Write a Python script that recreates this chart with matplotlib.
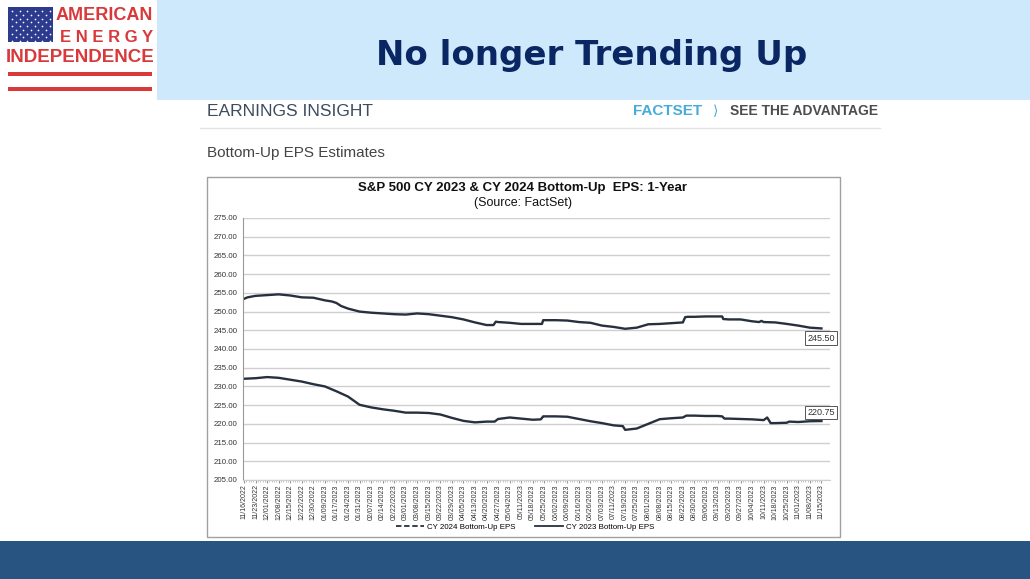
import matplotlib
matplotlib.use("Agg")
import matplotlib.pyplot as plt
from matplotlib.lines import Line2D
from matplotlib.patches import Rectangle
import numpy as np

# tick labels (every 5th trading day)
tick_labels = ["11/16/2022", "11/23/2022", "12/01/2022", "12/08/2022", "12/15/2022",
               "12/22/2022", "12/30/2022", "01/09/2023", "01/17/2023", "01/24/2023",
               "01/31/2023", "02/07/2023", "02/14/2023", "02/22/2023", "03/01/2023",
               "03/08/2023", "03/15/2023", "03/22/2023", "03/29/2023", "04/05/2023",
               "04/13/2023", "04/20/2023", "04/27/2023", "05/04/2023", "05/11/2023",
               "05/18/2023", "05/25/2023", "06/02/2023", "06/09/2023", "06/16/2023",
               "06/26/2023", "07/03/2023", "07/11/2023", "07/19/2023", "07/25/2023",
               "08/01/2023", "08/08/2023", "08/15/2023", "08/22/2023", "08/30/2023",
               "09/06/2023", "09/13/2023", "09/20/2023", "09/27/2023", "10/04/2023",
               "10/11/2023", "10/18/2023", "10/25/2023", "11/01/2023", "11/08/2023",
               "11/15/2023"]

# positions in tick units (one tick = 5 trading days)
pos_2024 = [0, 0.3, 1, 2, 3, 4, 5, 6, 7, 7.6, 8, 8.4, 9, 10, 11, 12, 13, 14, 15, 16,
            17, 18, 19, 20, 21, 21.6, 21.8, 22, 23, 24, 25, 25.8, 25.9, 26, 27, 28,
            29, 30, 31, 32, 33, 34, 35, 36, 37, 38, 38.2, 38.4, 39, 40, 41, 41.4,
            41.5, 42, 43, 44, 44.6, 44.8, 45, 46, 47, 48, 49, 50]
eps_2024 = [253.4, 253.8, 254.2, 254.4, 254.6, 254.3, 253.8, 253.7, 253.0, 252.7,
            252.3, 251.5, 250.8, 250.0, 249.7, 249.5, 249.3, 249.2, 249.5, 249.3,
            248.9, 248.5, 247.9, 247.1, 246.4, 246.4, 247.3, 247.2, 247.0, 246.7,
            246.7, 246.7, 247.7, 247.7, 247.7, 247.6, 247.2, 247.0, 246.25, 245.9,
            245.4, 245.7, 246.6, 246.7, 246.9, 247.1, 248.5, 248.6, 248.6, 248.7,
            248.7, 248.7, 248.0, 247.9, 247.9, 247.4, 247.2, 247.5, 247.2, 247.1,
            246.7, 246.25, 245.7, 245.5]

pos_2023 = [0, 1, 2, 3, 4, 5, 6, 7, 8, 9, 10, 11, 12, 13, 14, 15, 16, 17, 18, 19,
            20, 21, 21.7, 22, 23, 24, 25, 25.7, 25.9, 26, 27, 28, 29, 30, 31, 32,
            32.8, 33, 34, 35, 36, 37, 38, 38.3, 39, 40, 41, 41.4, 41.6, 42, 43, 44,
            45, 45.3, 45.6, 46, 47, 47.2, 48, 49, 50]
eps_2023 = [232.05, 232.2, 232.5, 232.3, 231.8, 231.3, 230.6, 230.0, 228.7, 227.3,
            225.1, 224.4, 223.9, 223.5, 223.0, 223.0, 222.9, 222.5, 221.6, 220.8,
            220.4, 220.6, 220.6, 221.3, 221.7, 221.4, 221.1, 221.2, 222.0, 222.0,
            222.0, 221.9, 221.3, 220.7, 220.2, 219.6, 219.4, 218.4, 218.75, 220.0,
            221.25, 221.5, 221.7, 222.2, 222.2, 222.1, 222.1, 222.0, 221.4, 221.4,
            221.3, 221.2, 221.0, 221.7, 220.2, 220.2, 220.3, 220.6, 220.5, 220.7,
            220.75]

y_ticks = np.arange(205, 276, 5)

W, H = 1030, 579
fig = plt.figure(figsize=(W / 100, H / 100), dpi=100)
fig.patch.set_facecolor("white")

# background / decorations in pixel coords
bg = fig.add_axes([0, 0, 1, 1])
bg.set_xlim(0, W)
bg.set_ylim(H, 0)
bg.axis("off")

bg.add_patch(Rectangle((157, 0), W - 157, 100, color="#cde9fb", lw=0))
bg.add_patch(Rectangle((0, 541), W, H - 541, color="#285481", lw=0))
bg.text(592, 55, "No longer Trending Up", ha="center", va="center",
        fontsize=24.5, fontweight="bold", color="#0b2763", family="DejaVu Sans")

# logo
red = "#d9393b"
bg.add_patch(Rectangle((8, 7), 45, 35, color="#2d3b8e", lw=0))
sx, sy = [], []
for r in range(5):
    for c in range(6):
        sx.append(12 + c * 7.5)
        sy.append(11 + r * 7.5)
for r in range(4):
    for c in range(5):
        sx.append(15.7 + c * 7.5)
        sy.append(14.7 + r * 7.5)
bg.scatter(sx, sy, s=1.5, color="white", lw=0)
bg.text(153, 16, "AMERICAN", ha="right", va="center", fontsize=13,
        fontweight="bold", color=red, family="Liberation Sans")
bg.text(153, 37, "E N E R G Y", ha="right", va="center", fontsize=12,
        fontweight="bold", color=red, family="Liberation Sans")
bg.text(80, 57, "INDEPENDENCE", ha="center", va="center", fontsize=13.5,
        fontweight="bold", color=red, family="Liberation Sans")
bg.add_patch(Rectangle((8, 72), 144, 4, color=red, lw=0))
bg.add_patch(Rectangle((8, 87), 144, 4, color=red, lw=0))

# report header
bg.text(207, 111, "EARNINGS INSIGHT", ha="left", va="center", fontsize=12.5,
        color="#3d4b5e", family="Liberation Sans")
bg.text(633, 111, "FACTSET", ha="left", va="center", fontsize=11,
        fontweight="bold", color="#46acd9", family="Liberation Sans")
bg.text(713, 111, "\u27e9", ha="left", va="center", fontsize=10,
        color="#46acd9", family="DejaVu Sans")
bg.text(878, 111, "SEE THE ADVANTAGE", ha="right", va="center", fontsize=10,
        fontweight="bold", color="#4d4d4d", family="Liberation Sans")
bg.plot([200, 880], [128, 128], color="#e3e3e3", lw=1)
bg.text(207, 153, "Bottom-Up EPS Estimates", ha="left", va="center",
        fontsize=11, color="#444444", family="Liberation Sans")

# chart frame
bg.add_patch(Rectangle((207, 177), 633, 360, fill=False, ec="#a0a0a0", lw=1))
bg.text(523, 188, "S&P 500 CY 2023 & CY 2024 Bottom-Up  EPS: 1-Year", ha="center",
        va="center", fontsize=9.5, fontweight="bold", color="#111111",
        family="Liberation Sans")
bg.text(523, 203, "(Source: FactSet)", ha="center", va="center", fontsize=9,
        color="#111111", family="Liberation Sans")

# plot area
ax = fig.add_axes([243 / W, 1 - 480 / H, (830 - 243) / W, (480 - 218) / H])
ax.set_facecolor("none")
ax.plot(pos_2024, eps_2024, color="#27303f", lw=1.7, solid_joinstyle="round")
ax.plot(pos_2023, eps_2023, color="#27303f", lw=1.7, solid_joinstyle="round")
ax.set_xlim(-0.09, 50.74)
ax.set_ylim(205, 275)
ax.set_yticks(y_ticks)
ax.set_yticklabels(["%.2f" % v for v in y_ticks], fontsize=5.7, color="#333333",
                   family="Liberation Sans")
ax.set_xticks(range(len(tick_labels)))
ax.set_xticklabels(tick_labels, rotation=90, fontsize=5, color="#333333",
                   family="Liberation Sans")
ax.set_xticks(np.arange(0, 50.01, 0.2), minor=True)
ax.tick_params(axis="x", which="major", length=2, color="#999999", pad=1)
ax.tick_params(axis="x", which="minor", length=1.5, color="#bbbbbb")
ax.tick_params(axis="y", length=0, pad=4)
ax.grid(axis="y", color="#cfcfcf", lw=1)
for s in ["top", "right"]:
    ax.spines[s].set_visible(False)
ax.spines["left"].set_color("#9a9a9a")
ax.spines["bottom"].set_color("#cfcfcf")

ax.annotate("%.2f" % eps_2024[-1], (pos_2024[-1], eps_2024[-1]), xytext=(0, -7),
            textcoords="offset points", ha="center", va="center", fontsize=6.5,
            color="#333333", family="Liberation Sans",
            bbox=dict(boxstyle="square,pad=0.25", fc="white", ec="#555555", lw=0.7))
ax.annotate("%.2f" % eps_2023[-1], (pos_2023[-1], eps_2023[-1]), xytext=(0, 6),
            textcoords="offset points", ha="center", va="center", fontsize=6.5,
            color="#333333", family="Liberation Sans",
            bbox=dict(boxstyle="square,pad=0.25", fc="white", ec="#555555", lw=0.7))

handles = [Line2D([], [], color="#27303f", lw=1.3, ls=(0, (3, 1.5))),
           Line2D([], [], color="#27303f", lw=1.3)]
fig.legend(handles, ["CY 2024 Bottom-Up EPS", "CY 2023 Bottom-Up EPS"], ncol=2,
           loc="center", bbox_to_anchor=(525 / W, 1 - 527 / H), frameon=False,
           prop={"family": "Liberation Sans", "size": 5.7}, handlelength=3.5,
           handletextpad=0.4, columnspacing=2.5)

fig.savefig("out.png", dpi=100)
